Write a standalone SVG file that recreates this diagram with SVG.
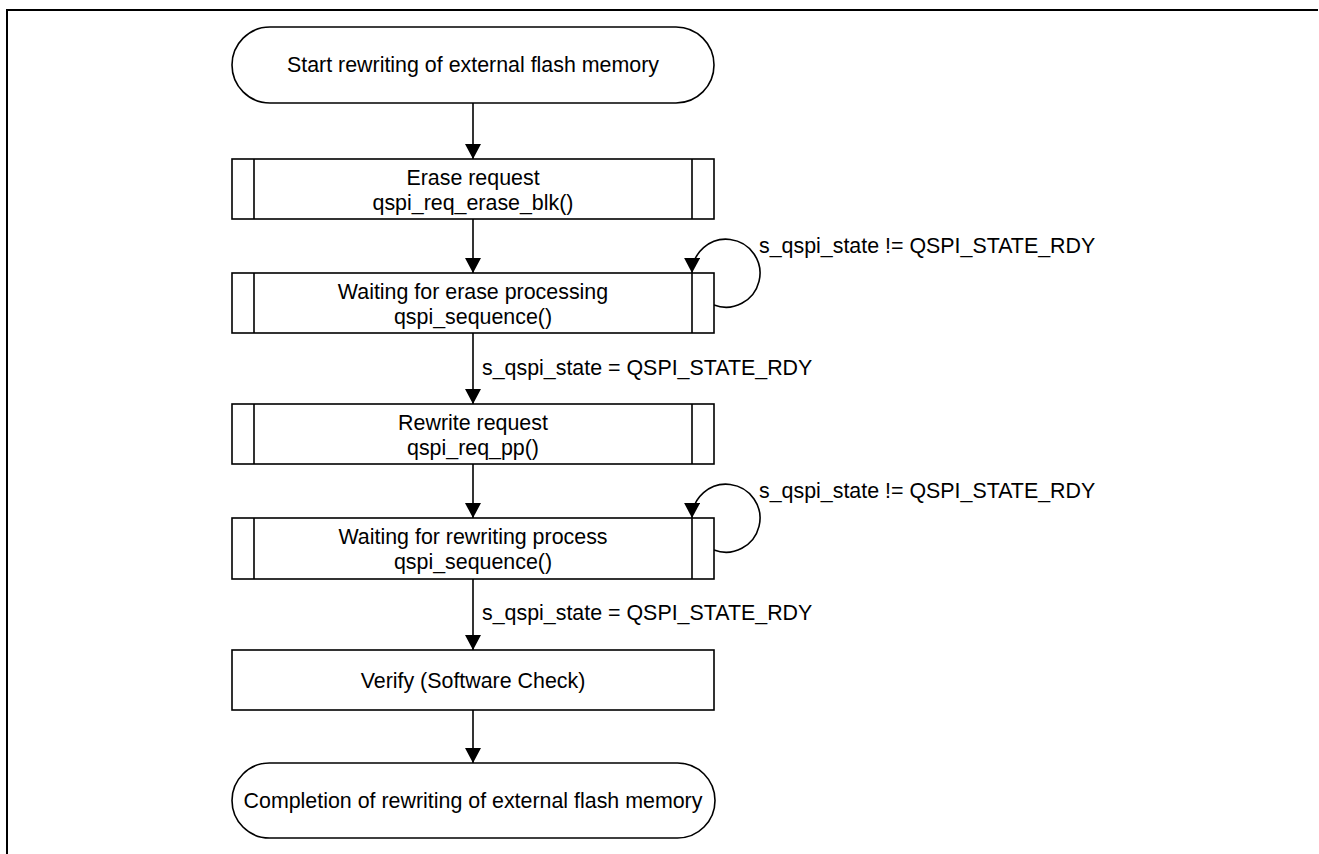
<svg xmlns="http://www.w3.org/2000/svg" width="1319" height="854" viewBox="0 0 1319 854">
<defs>
<marker id="ahv" markerWidth="15" markerHeight="16" refX="15" refY="8" orient="auto" markerUnits="userSpaceOnUse" viewBox="0 0 15 16">
<path d="M0,0 L15,8 L0,16 Z" fill="#000"/>
</marker>
<style>
.b{fill:#fff;stroke:#000;stroke-width:1.6}
.l{fill:none;stroke:#000;stroke-width:1.6}
.t{font-family:"Liberation Sans",Arial,sans-serif;font-size:21.4px;fill:#000;text-anchor:middle}
.e{font-family:"Liberation Sans",Arial,sans-serif;font-size:21.4px;fill:#000}
</style>
</defs>
<rect width="1319" height="854" fill="#fff"/>
<g id="frame"><path d="M7,854 V10 H1318" fill="none" stroke="#000" stroke-width="2"/></g>
<g id="connectors">
<path class="l" d="M473,103 V159" marker-end="url(#ahv)"/>
<path class="l" d="M473,219 V273" marker-end="url(#ahv)"/>
<path class="l" d="M473,333 V404" marker-end="url(#ahv)"/>
<path class="l" d="M473,464 V518" marker-end="url(#ahv)"/>
<path class="l" d="M473,579 V650" marker-end="url(#ahv)"/>
<path class="l" d="M473,710 V763" marker-end="url(#ahv)"/>
<path class="l" d="M714,305 A34,34 0 1 0 692,273" marker-end="url(#ahv)"/>
<path class="l" d="M714,550 A34,34 0 1 0 692,518" marker-end="url(#ahv)"/>
<text class="e" x="759" y="253">s_qspi_state != QSPI_STATE_RDY</text>
<text class="e" x="759" y="498">s_qspi_state != QSPI_STATE_RDY</text>
<text class="e" x="482" y="375">s_qspi_state = QSPI_STATE_RDY</text>
<text class="e" x="482" y="620">s_qspi_state = QSPI_STATE_RDY</text>
</g>
<g id="start">
<rect class="b" x="232" y="27" width="482" height="76" rx="38"/>
<text class="t" x="473" y="72">Start rewriting of external flash memory</text>
</g>
<g id="erase_req">
<rect class="b" x="232" y="159" width="482" height="60"/>
<path class="l" d="M254,159 V219 M692,159 V219"/>
<text class="t" x="473" y="185">Erase request</text>
<text class="t" x="473" y="210">qspi_req_erase_blk()</text>
</g>
<g id="erase_wait">
<rect class="b" x="232" y="273" width="482" height="60"/>
<path class="l" d="M254,273 V333 M692,273 V333"/>
<text class="t" x="473" y="299">Waiting for erase processing</text>
<text class="t" x="473" y="324">qspi_sequence()</text>
</g>
<g id="rewrite_req">
<rect class="b" x="232" y="404" width="482" height="60"/>
<path class="l" d="M254,404 V464 M692,404 V464"/>
<text class="t" x="473" y="430">Rewrite request</text>
<text class="t" x="473" y="455">qspi_req_pp()</text>
</g>
<g id="rewrite_wait">
<rect class="b" x="232" y="518" width="482" height="61"/>
<path class="l" d="M254,518 V579 M692,518 V579"/>
<text class="t" x="473" y="544">Waiting for rewriting process</text>
<text class="t" x="473" y="569">qspi_sequence()</text>
</g>
<g id="verify">
<rect class="b" x="232" y="650" width="482" height="60"/>
<text class="t" x="473" y="688">Verify (Software Check)</text>
</g>
<g id="end">
<rect class="b" x="232" y="763" width="483" height="75" rx="37.5"/>
<text class="t" x="473" y="808">Completion of rewriting of external flash memory</text>
</g>
</svg>
